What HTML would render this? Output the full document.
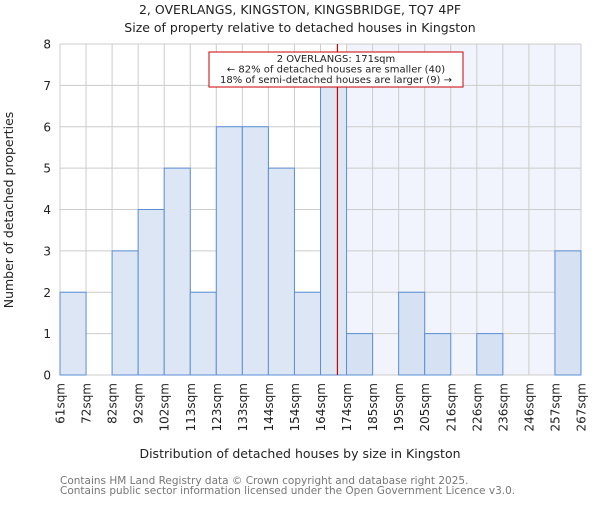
<!DOCTYPE html>
<html><head><meta charset="utf-8"><style>
body{margin:0;background:#fff;}
svg text{font-family:"DejaVu Sans","Liberation Sans",sans-serif;}
</style></head><body>
<svg id="chart" width="600" height="500" xmlns="http://www.w3.org/2000/svg">
<text x="300" y="14" text-anchor="middle" font-size="12.5" fill="#222">2, OVERLANGS, KINGSTON, KINGSBRIDGE, TQ7 4PF</text>
<text x="300" y="32" text-anchor="middle" font-size="12.5" fill="#222">Size of property relative to detached houses in Kingston</text>
<g id="plot"></g>
<text x="300" y="458" text-anchor="middle" font-size="12.5" fill="#222">Distribution of detached houses by size in Kingston</text>
<text transform="translate(13,210) rotate(-90)" text-anchor="middle" font-size="12.5" fill="#222">Number of detached properties</text>
<text x="60" y="484" font-size="10.5" fill="#777">Contains HM Land Registry data © Crown copyright and database right 2025.</text>
<text x="60" y="494" font-size="10.5" fill="#777">Contains public sector information licensed under the Open Government Licence v3.0.</text>
</svg>
<script>
const categories=["61sqm","72sqm","82sqm","92sqm","102sqm","113sqm","123sqm","133sqm","144sqm","154sqm","164sqm","174sqm","185sqm","195sqm","205sqm","216sqm","226sqm","236sqm","246sqm","257sqm","267sqm"];
const counts=[2,0,3,4,5,2,6,6,5,2,7,1,0,2,1,0,1,0,0,3];
const yTicks=[0,1,2,3,4,5,6,7,8];
const markerIndex=10.65;
const highlightStart=11;
const NS="http://www.w3.org/2000/svg";
const L=60,R=581,T=44,B=375,n=counts.length,bw=(R-L)/n;
const x=i=>L+i*bw, y=v=>B-(v/8)*(B-T);
const g=document.getElementById('plot');
function mk(t,a){const e=document.createElementNS(NS,t);for(const k in a)e.setAttribute(k,a[k]);g.appendChild(e);return e;}
let e=mk('rect',{x:x(highlightStart),y:T,width:R-x(highlightStart),height:B-T,fill:'#f1f4fd'});


yTicks.forEach(v=>{
 let l=mk('line',{x1:L,x2:R,y1:y(v),y2:y(v),stroke:'#ccc','stroke-width':1});
 
 
 let t=mk('text',{x:L-9,y:y(v)+4.5,'text-anchor':'end','font-size':12,fill:'#222'});t.textContent=v;
 
 
});
for(let i=0;i<=n;i++){
 let l=mk('line',{x1:x(i),x2:x(i),y1:T,y2:B,stroke:'#ccc','stroke-width':1});
 
 
}
counts.forEach((c,i)=>{
 if(c<=0)return;
 let r=mk('rect',{x:x(i),y:y(c),width:bw,height:B-y(c),fill:i>=highlightStart?'#d6e2f3':'#dce6f4',stroke:'#5b8fd6','stroke-width':1});
 
 
});
categories.forEach((c,i)=>{
 let t=mk('text',{transform:`translate(${x(i)+4.5},${B+8}) rotate(-90)`,'text-anchor':'end','font-size':12,fill:'#222'});t.textContent=c;
 
 
});
e=mk('line',{x1:x(markerIndex),x2:x(markerIndex),y1:T,y2:B,stroke:'#c00','stroke-width':1.2});


e=mk('rect',{x:209,y:52,width:254,height:35,fill:'#fff',stroke:'#c00','stroke-width':1});


["2 OVERLANGS: 171sqm","← 82% of detached houses are smaller (40)","18% of semi-detached houses are larger (9) →"].forEach((s,k)=>{
 let t=mk('text',{x:336,y:62+k*10.5,'text-anchor':'middle','font-size':10,fill:'#222'});t.textContent=s;
 
 
});
</script>
</body></html>
